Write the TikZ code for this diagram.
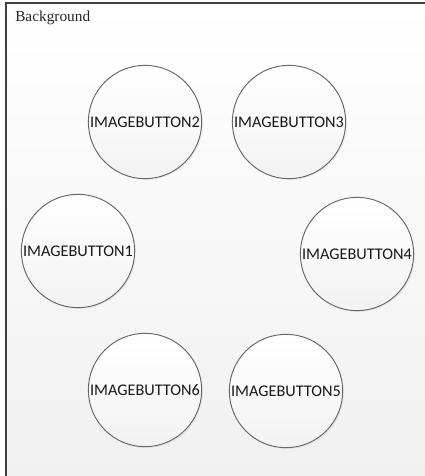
\documentclass[tikz,border=0pt]{standalone}
\usepackage{fontspec}
\setmainfont{Liberation Serif}
\newfontfamily\btnfont{Carlito}
\usetikzlibrary{shadows}
\tikzset{
  imgbutton/.style={circle, draw=black!60, line width=0.7pt,
    top color=white, bottom color=black!5, minimum size=85pt, inner sep=0pt,
    font=\btnfont\fontsize{12.2}{14}\selectfont, text=black!90,
    drop shadow={opacity=0.12, shadow xshift=1pt, shadow yshift=-1pt}}
}
\begin{document}
\begin{tikzpicture}[x=0.75pt, y=-0.75pt]
    \useasboundingbox (0,0) rectangle (425,476);
    \clip (0,0) rectangle (425,476);
    % panel
    \shade[top color=white, bottom color=black!6] (6,3) rectangle (440,490);
    \draw[black!75, line width=1.1pt] (6,490) -- (6,3) -- (440,3);
    \node[anchor=base west, inner sep=0pt, font=\fontsize{11.5}{13}\selectfont, text=black!85] (bg) at (15,21) {Background};
    % buttons
    \foreach \n/\x/\y in {1/78/251, 2/145/122, 3/289/122, 4/357/254, 5/286/391, 6/145/390} {
        \node[imgbutton] (btn\n) at (\x,\y) {IMAGEBUTTON\n};
    }
\end{tikzpicture}
\end{document}
